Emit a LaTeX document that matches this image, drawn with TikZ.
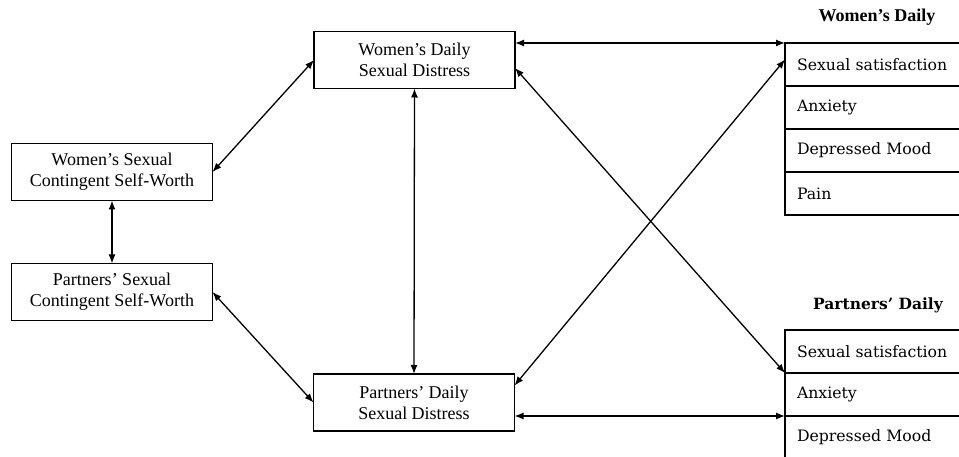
\documentclass[tikz,border=0pt]{standalone}
\usepackage{fontspec}
\setmainfont{Liberation Serif}
\newfontfamily\itemfont{DejaVu Serif}
\usetikzlibrary{arrows.meta}
\begin{document}
\begin{tikzpicture}[x=1pt,y=-1pt,
  every node/.style={inner sep=0pt,outer sep=0pt},
  mainbox/.style={draw,line width=1.3pt,minimum width=201pt,minimum height=57pt,align=center,
    font=\fontsize{18}{21}\selectfont},
  rowbox/.style={draw,line width=1.3pt,minimum width=180pt,minimum height=43pt,anchor=north west,
    text width=156pt,align=left,font=\itemfont\fontsize{15.7}{18}\selectfont},
  title/.style={font=\fontsize{18}{21}\selectfont\bfseries},
  link/.style={line width=1.3pt,{Latex[length=9pt,width=7pt]}-{Latex[length=9pt,width=7pt]}}]
\useasboundingbox (0,0) rectangle (959,457);
\node[mainbox] (wscsw) at (112,172) {Women’s Sexual\\Contingent Self-Worth};
\node[mainbox] (pscsw) at (112,292) {Partners’ Sexual\\Contingent Self-Worth};
\node[mainbox] (wdsd) at (414.5,60) {Women’s Daily\\Sexual Distress};
\node[mainbox] (pdsd) at (414,402.5) {Partners’ Daily\\Sexual Distress};
\node[title] (wt) at (877,17) {Women’s Daily};
\node[title,font=\itemfont\fontsize{15.5}{18}\selectfont\bfseries] (pt) at (878,305) {Partners’ Daily};
\node[rowbox] (wss) at (785,43) {Sexual satisfaction};
\node[rowbox] (wanx) at (785,86) {Anxiety};
\node[rowbox] (wdep) at (785,129) {Depressed Mood};
\node[rowbox] (wpain) at (785,172) {Pain};
\node[rowbox] (pss) at (785,330) {Sexual satisfaction};
\node[rowbox] (panx) at (785,373) {Anxiety};
\node[rowbox] (pdep) at (785,416) {Depressed Mood};
\draw[link] (wdsd.east |- wss.north west) -- (wss.north west);
\draw[link] (wdsd.south) -- (pdsd.north);
\draw[link] (wscsw.east) -- (wdsd.west);
\draw[link] (wscsw.south) -- (pscsw.north);
\draw[link] (pscsw.east) -- (pdsd.west);
\draw[link] ([yshift=-8pt]wdsd.east) -- (pss.south west);
\draw[link] ([yshift=17pt]pdsd.east) -- ([yshift=5pt]wss.west);
\draw[link] (pdsd.east |- pdep.north west) -- (pdep.north west);
\end{tikzpicture}
\end{document}
